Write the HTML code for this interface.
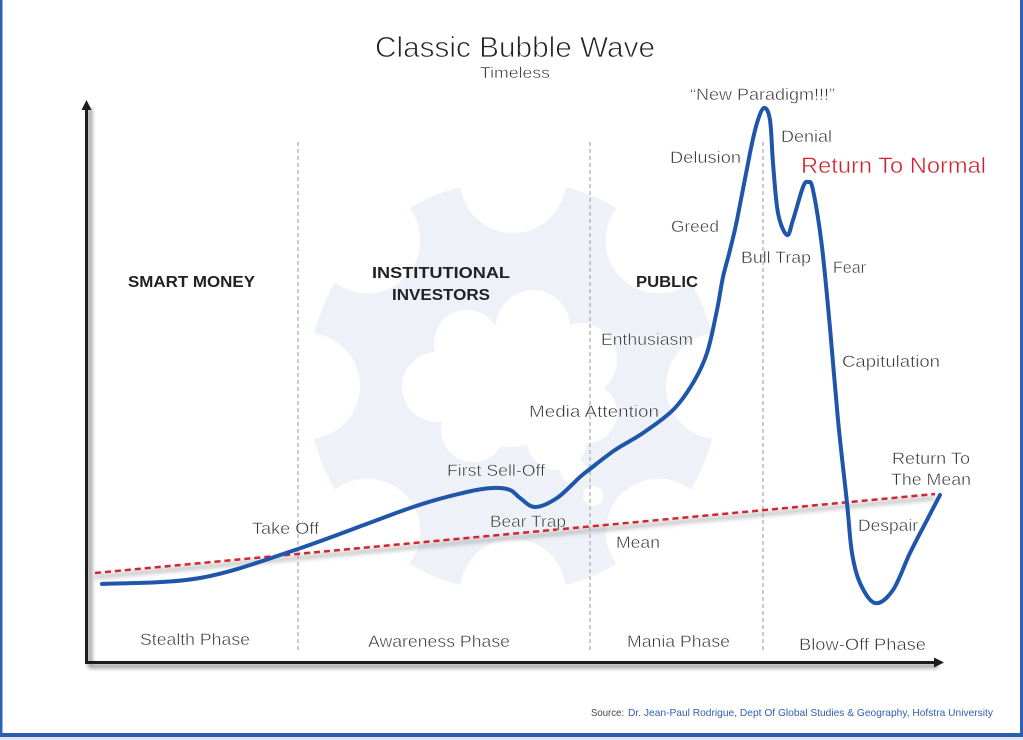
<!DOCTYPE html>
<html><head><meta charset="utf-8"><style>
html,body{margin:0;padding:0;background:#fff;}
svg{display:block;}
text{font-family:"Liberation Sans",sans-serif;fill:#333;}
.thin text, text.thin{stroke:#fff;stroke-width:0.45px;}
</style></head><body>
<svg width="1023" height="740" viewBox="0 0 1023 740" xmlns="http://www.w3.org/2000/svg">
<defs>
<filter id="sh" x="-20%" y="-20%" width="140%" height="140%"><feGaussianBlur stdDeviation="2"/></filter>
</defs>
<rect x="0" y="0" width="1023" height="740" fill="#fff"/>
<!-- gear -->
<circle cx="513" cy="386" r="206" fill="#eef2f8"/>
<g fill="#fff">
<circle cx="719" cy="386" r="53"/>
<circle cx="658.7" cy="240.3" r="53"/>
<circle cx="513" cy="180" r="53"/>
<circle cx="367.3" cy="240.3" r="53"/>
<circle cx="307" cy="386" r="53"/>
<circle cx="367.3" cy="531.7" r="53"/>
<circle cx="513" cy="592" r="53"/>
<circle cx="658.7" cy="531.7" r="53"/>
<!-- cloud -->
<circle cx="467" cy="343" r="33"/>
<circle cx="533" cy="327" r="37"/>
<circle cx="580" cy="360" r="37"/>
<circle cx="587" cy="413" r="30"/>
<circle cx="557" cy="440" r="30"/>
<circle cx="473" cy="430" r="32"/>
<circle cx="437" cy="387" r="35"/>
<circle cx="510" cy="385" r="62"/>
<circle cx="573" cy="470" r="13"/>
<circle cx="593" cy="496" r="10"/>
</g>
<!-- vertical dashed -->
<g stroke="#b8b8b8" stroke-width="1.5" stroke-dasharray="4,3">
<line x1="298" y1="142" x2="298" y2="652"/>
<line x1="590" y1="142" x2="590" y2="652"/>
<line x1="763" y1="142" x2="763" y2="652"/>
</g>
<!-- axes shadow -->
<g stroke="#777" stroke-width="4" fill="none" filter="url(#sh)" opacity="0.8">
<polyline points="90,108 90,666 938,666"/>
</g>
<!-- axes -->
<g stroke="#1c1c1c" stroke-width="3" fill="none">
<polyline points="86.5,108 86.5,662.5 936,662.5"/>
</g>
<polygon points="86.5,100 81.5,110 91.5,110" fill="#1c1c1c"/>
<polygon points="944,662.5 934,657.5 934,667.5" fill="#1c1c1c"/>
<!-- mean line shadow -->
<line x1="95" y1="577" x2="935" y2="498" stroke="#999" stroke-width="4" filter="url(#sh)" opacity="0.6"/>
<line x1="95" y1="573" x2="935" y2="494" stroke="#d3252f" stroke-width="2.5" stroke-dasharray="6,4"/>
<!-- curve -->
<path id="curve" fill="none" stroke="#1f56aa" stroke-width="4" stroke-linecap="round" stroke-linejoin="round"
d="M102,584 L200,578 L298,549 L413,507 L467,492 L493,488 L510,490 L520,498 L535,507 L557,498 L580,477 L590,469 L615,450 L643,433 L673,410 L693,383 L707,353 L717,310 L723,277 L730,250 L737,220 L750,153 L757,123 L764,108 L770,120 L773,163 L778,213 L787,235 L793,220 L803,187 L808,182 L813,190 L822,247 L830,328 L838,420 L847,503 L852,553 L860,583 L875,603 L893,590 L910,553 L927,520 L940,495"/>
<!-- title -->
<g class="thin">
<text x="515" y="57" font-size="29" text-anchor="middle" textLength="280" lengthAdjust="spacingAndGlyphs" style="fill:#222;stroke-width:0.8px">Classic Bubble Wave</text>
<text x="515" y="78" font-size="16" text-anchor="middle" textLength="70" lengthAdjust="spacingAndGlyphs">Timeless</text>
</g>
<!-- labels -->
<g font-size="17" class="thin">
<text x="690" y="100" textLength="145" lengthAdjust="spacingAndGlyphs">“New Paradigm!!!”</text>
<text x="781" y="142" textLength="51" lengthAdjust="spacingAndGlyphs">Denial</text>
<text x="670" y="163" textLength="71" lengthAdjust="spacingAndGlyphs">Delusion</text>
<text x="671" y="232" textLength="48" lengthAdjust="spacingAndGlyphs">Greed</text>
<text x="741" y="263" textLength="70" lengthAdjust="spacingAndGlyphs">Bull Trap</text>
<text x="833" y="273" textLength="33" lengthAdjust="spacingAndGlyphs">Fear</text>
<text x="601" y="345" textLength="92" lengthAdjust="spacingAndGlyphs">Enthusiasm</text>
<text x="842" y="367" textLength="98" lengthAdjust="spacingAndGlyphs">Capitulation</text>
<text x="529" y="417" textLength="130" lengthAdjust="spacingAndGlyphs">Media Attention</text>
<text x="447" y="476" textLength="98" lengthAdjust="spacingAndGlyphs">First Sell-Off</text>
<text x="892" y="464" textLength="78" lengthAdjust="spacingAndGlyphs">Return To</text>
<text x="891" y="485" textLength="80" lengthAdjust="spacingAndGlyphs">The Mean</text>
<text x="252" y="534" textLength="67" lengthAdjust="spacingAndGlyphs">Take Off</text>
<text x="490" y="527" textLength="76" lengthAdjust="spacingAndGlyphs">Bear Trap</text>
<text x="858" y="531" textLength="60" lengthAdjust="spacingAndGlyphs">Despair</text>
<text x="616" y="548" textLength="44" lengthAdjust="spacingAndGlyphs">Mean</text>
<text x="140" y="645" textLength="110" lengthAdjust="spacingAndGlyphs">Stealth Phase</text>
<text x="368" y="647" textLength="142" lengthAdjust="spacingAndGlyphs">Awareness Phase</text>
<text x="627" y="647" textLength="103" lengthAdjust="spacingAndGlyphs">Mania Phase</text>
<text x="799" y="650" textLength="127" lengthAdjust="spacingAndGlyphs">Blow-Off Phase</text>
</g>
<g font-size="16" font-weight="bold">
<text x="128" y="287" textLength="127" lengthAdjust="spacingAndGlyphs" style="fill:#222">SMART MONEY</text>
<text x="372" y="278" textLength="138" lengthAdjust="spacingAndGlyphs" style="fill:#222">INSTITUTIONAL</text>
<text x="392" y="300" textLength="98" lengthAdjust="spacingAndGlyphs" style="fill:#222">INVESTORS</text>
<text x="636" y="287" textLength="62" lengthAdjust="spacingAndGlyphs" style="fill:#222">PUBLIC</text>
</g>
<text class="thin" x="801" y="173" font-size="22" textLength="185" lengthAdjust="spacingAndGlyphs" style="fill:#d0202e">Return To Normal</text>
<!-- source -->
<text x="591" y="716" font-size="10.5" textLength="33" lengthAdjust="spacingAndGlyphs" style="fill:#444">Source:</text>
<text x="628" y="716" font-size="10.5" textLength="365" lengthAdjust="spacingAndGlyphs" style="fill:#2f5fb3">Dr. Jean-Paul Rodrigue, Dept Of Global Studies &amp; Geography, Hofstra University</text>
<!-- border -->
<rect x="0" y="0" width="2.5" height="737" fill="#2e62b8"/>
<rect x="1020" y="0" width="3" height="737" fill="#2e62b8"/>
<rect x="0" y="733" width="1023" height="4" fill="#2a5cb0"/>
<rect x="0" y="737" width="1023" height="3" fill="#dfe6f2"/>
</svg>
<script>
(function(){
var p=document.getElementById('curve');
var d=p.getAttribute('d');
var nums=d.match(/-?\d+(\.\d+)?/g).map(Number);
var pts=[];for(var i=0;i<nums.length;i+=2)pts.push([nums[i],nums[i+1]]);
var s='M'+pts[0][0]+','+pts[0][1];
for(var i=0;i<pts.length-1;i++){
var p0=pts[i-1]||pts[i],p1=pts[i],p2=pts[i+1],p3=pts[i+2]||pts[i+1];
var c1x=p1[0]+(p2[0]-p0[0])/6,c1y=p1[1]+(p2[1]-p0[1])/6;
var c2x=p2[0]-(p3[0]-p1[0])/6,c2y=p2[1]-(p3[1]-p1[1])/6;
s+=' C'+c1x.toFixed(1)+','+c1y.toFixed(1)+' '+c2x.toFixed(1)+','+c2y.toFixed(1)+' '+p2[0]+','+p2[1];
}
p.setAttribute('d',s);
})();
</script>
</body></html>
